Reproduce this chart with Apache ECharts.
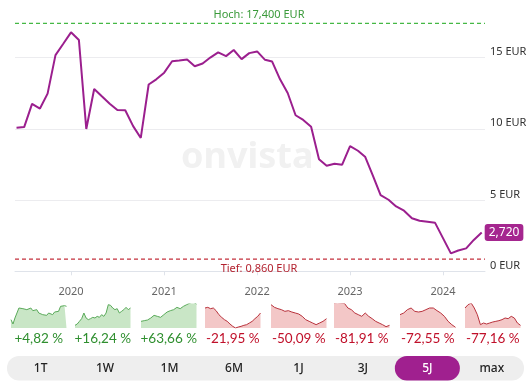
<!DOCTYPE html>
<html><head><meta charset="utf-8">
<script src="https://cdn.jsdelivr.net/npm/echarts@6/dist/echarts.min.js"></script>
<style>html,body{margin:0;padding:0;background:#fff}#c{width:530px;height:389px}</style>
</head><body><div id="c"></div>
<script>
// ---- data ----
const startYear = 2019, startMonth = 5; // June 2019 (0-based month)
const prices = [10.07,10.12,11.75,11.42,12.47,15.17,15.95,16.77,16.23,9.99,12.79,12.28,11.76,11.32,11.30,10.19,9.36,13.11,13.47,13.94,14.74,14.79,14.86,14.39,14.58,15.00,15.36,15.10,15.53,14.89,15.31,15.43,14.84,14.72,13.47,12.51,10.95,10.62,10.15,7.86,7.41,7.55,7.48,8.79,8.46,8.04,6.70,5.35,5.02,4.55,4.25,3.72,3.55,3.48,3.40,2.33,1.26,1.46,1.61,2.20,2.72];
const yearTicks = [2020,2021,2022,2023,2024];
const yTicks = [0,5,10,15];
const high = 17.4, low = 0.86;
const rangeLabels = ['1T','1W','1M','6M','1J','3J','5J','max'];
const activeRange = '5J';
const changeLabels = ['+4,82 %','+16,24 %','+63,66 %','-21,95 %','-50,09 %','-81,91 %','-72,55 %','-77,16 %'];
const mini1T = [25,12,30,45,60,65,58,62,55,58,60,52,56,55,45,42,40,42,38,45,42,40,48,45,50,65,68,67,65];
const mini1W = [8,12,20,28,45,30,25,28,32,30,35,32,40,35,45,70,68,60,55,58,45,50,55,62,55,60];
const mini1M = [20,22,24,30,38,35,32,40,48,52,55,62,58,65,70,75,78,72];
const mini6M = [60,62,58,60,52,40,32,25,20,12,5,0,3,5,8,10,15,20,28,35,45];
const mini1J = [70,62,58,55,50,52,48,45,42,35,25,20,15,10,15,20,28];
const mini3J = [75,76,75,74,60,55,45,40,35,45,35,28,20,15,10,4,8];
const mini5J = [40,45,55,60,50,48,50,55,60,60,52,45,35,20,10,2];
const miniMax = [60,70,75,60,40,10,15,12,15,18,20,22,25,30,28,35,30,15,8];
const minis = [mini1T,mini1W,mini1M,mini6M,mini1J,mini3J,mini5J,miniMax];

// ---- build ----
const DAY = 86400000;
const ref = Date.UTC(2020,0,1);
const dayOf = (y,m,d) => Math.round((Date.UTC(y,m,d) - ref)/DAY);
const fmt = (v,d) => v.toFixed(d).replace('.',',');
const lineData = prices.map((p,i) => [dayOf(startYear, startMonth+i, 1), p]);
const xMin = dayOf(2019,4,26), xMax = dayOf(2024,5,14);
const yearDays = yearTicks.map(y => dayOf(y,0,1));
const FONT = '"Noto Sans", Lato, sans-serif';
const PURPLE = '#9b1f8e';

const grids = [{left:15, right:45, top:0.55, bottom:117.7}];
const xAxes = [{
  type:'value', min:xMin, max:xMax, offset:7.4,
  axisLine:{show:true, lineStyle:{color:'#dfe3ea', width:1}},
  axisTick:{show:true, length:4, lineStyle:{color:'#dfe3ea'}, customValues: yearDays},
  axisLabel:{customValues: yearDays, formatter: v => String(yearTicks[yearDays.indexOf(Math.round(v))] ?? ''), color:'#666', fontSize:11, fontFamily:FONT, margin:8},
  splitLine:{show:false}
}];
const yAxes = [{
  type:'value', position:'right', min:0, max:19, interval:5,
  axisLine:{show:false}, axisTick:{show:false},
  axisLabel:{formatter: v => yTicks.includes(v) ? v + ' EUR' : '', showMaxLabel:false, color:'#333', fontSize:11, fontFamily:FONT, margin:5, verticalAlign:'bottom'},
  splitLine:{show:true, showMaxLine:false, lineStyle:{color:'#ececef', width:1}}
}];
const refLine = (val, lineColor, lineWidth, textColor, text, pos, offY) => ({
  type:'line', data:[[xMin,val],[xMax,val]], xAxisIndex:0, yAxisIndex:0, silent:true, z:4,
  symbol:'none', color:lineColor,
  lineStyle:{color:lineColor, type:[4,3], width:lineWidth},
  markLine:{silent:true, symbol:'none', animation:false,
    lineStyle:{color:'rgba(255,255,255,0)', width:1},
    label:{show:true, position:pos, formatter:text, color:textColor, fontSize:11, fontFamily:FONT, offset:[9,offY], distance:2},
    data:[{yAxis:val}]}
});
const series = [{
  type:'line', data:lineData, xAxisIndex:0, yAxisIndex:0, symbol:'none', smooth:false,
  lineStyle:{color:PURPLE, width:2}, z:5,
  endLabel:{show:true, formatter: p => fmt(p.value[1],3), color:'#fff', backgroundColor:'#a5268f',
    padding:[3,4,2,4], borderRadius:3, fontSize:12, fontFamily:FONT, distance:3}
},
refLine(high, '#45b845', 1.4, '#3a9a3a', 'Hoch: '+fmt(high,3)+' EUR', 'insideMiddleTop', -0.5),
refLine(low, '#c3303c', 1.2, '#b3222f', 'Tief: '+fmt(low,3)+' EUR', 'insideMiddleBottom', 2.5)
];

const miniLefts = [11,75,141,205,271,334,400,465];
const graphics = [
  {type:'text', left:181, top:140, z:0, style:{text:'onvista', fill:'#f1f1f1', font:'bold 36px '+FONT}}
];
minis.forEach((arr,i) => {
  const up = changeLabels[i].startsWith('+');
  grids.push({left:miniLefts[i], top:304, width:55.5, height:24});
  xAxes.push({gridIndex:i+1, type:'category', boundaryGap:false, show:false, data:arr.map((_,k)=>k)});
  yAxes.push({gridIndex:i+1, type:'value', min:0, max:72, show:false});
  series.push({type:'line', xAxisIndex:i+1, yAxisIndex:i+1, data:arr, symbol:'none',
    lineStyle:{color: up ? '#5aaa5a' : '#b8323c', width:1},
    areaStyle:{color: up ? '#c9e6c6' : '#f3c7c7', opacity:1}});
  graphics.push({type:'text', x:miniLefts[i]+27.75, y:338.5, style:{text:changeLabels[i], fill: up ? '#2f8f2f' : '#c0102a',
    font:'13.5px Lato, "Noto Sans", sans-serif', align:'center', verticalAlign:'middle'}});
});
// range buttons
graphics.push({type:'rect', shape:{x:7, y:356, width:517, height:24.5, r:12}, style:{fill:'#eeeeee'}});
rangeLabels.forEach((t,i) => {
  const cx = 40.6 + 64.46*i;
  if (t === activeRange) graphics.push({type:'rect', shape:{x:cx-32.5, y:356, width:65, height:24.5, r:12}, style:{fill:'#a0208f'}});
  graphics.push({type:'text', x:cx, y:368.5, style:{text:t, fill: t===activeRange ? '#fff' : '#222', font:'500 12px "Noto Sans", sans-serif', align:'center', verticalAlign:'middle'}});
});

const chart = echarts.init(document.getElementById('c'), null, {renderer:'canvas'});
chart.setOption({
  animation:false, backgroundColor:'#fff',
  grid:grids, xAxis:xAxes, yAxis:yAxes, series:series, graphic:graphics
});
</script></body></html>
